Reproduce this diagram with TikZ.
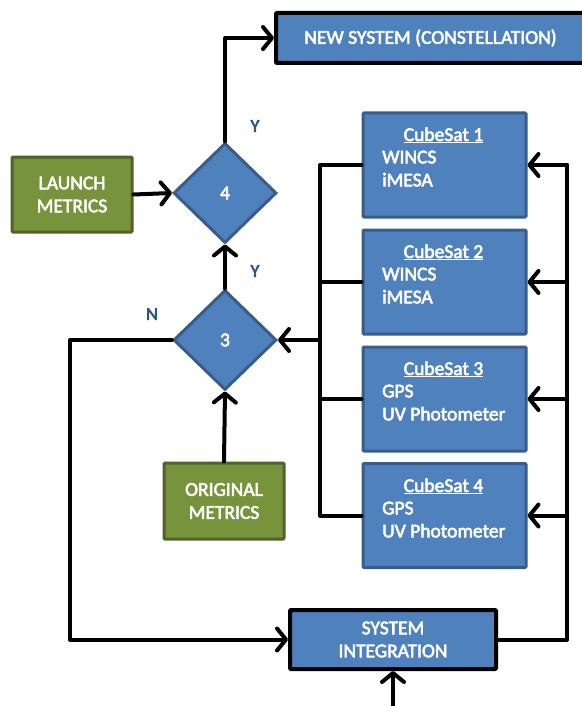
\documentclass[tikz,border=0pt]{standalone}
\usepackage{fontspec}
\setmainfont{Carlito}
\usetikzlibrary{shapes.geometric,arrows.meta}
\newcommand\heavytxt{\special{pdf:literal 2 Tr 0.55 w}}
\newcommand\plaintxt{\special{pdf:literal 0 Tr}}
\definecolor{bfill}{HTML}{4F81BD}
\definecolor{bline}{HTML}{385D8A}
\definecolor{gfill}{HTML}{77933C}
\definecolor{gline}{HTML}{4F6228}
\definecolor{lblue}{HTML}{2A5587}
\tikzset{
  wfont/.style={font=\fontsize{19.5}{23}\selectfont},
  wtxt/.style={text=white,wfont,inner sep=0pt},
  bluebox/.style={rectangle,fill=bfill,draw=bline,line width=3pt,rounded corners=1pt,inner sep=0pt},
  blackbox/.style={rectangle,fill=bfill,draw=black,line width=4pt,rounded corners=1pt,inner sep=0pt,text=white,wfont,align=center},
  greenbox/.style={rectangle,fill=gfill,draw=gline,line width=3pt,rounded corners=1pt,inner sep=0pt,text=white,wfont,align=center},
  dec/.style={diamond,aspect=1,minimum width=103pt,minimum height=100pt,fill=bfill,draw=bline,line width=3pt,inner sep=0pt,text=white,wfont},
  conn/.style={line width=4pt,line join=round,line cap=round},
  arr/.style={conn,-{Straight Barb[length=9pt,width=22pt,round]}},
  yn/.style={text=lblue,font=\fontsize{18}{20}\selectfont,inner sep=0pt}
}
\begin{document}
\begin{tikzpicture}[x=1pt,y=-1pt]
\useasboundingbox (0,0) rectangle (581,706);
% nodes
\node[blackbox,minimum width=309pt,minimum height=50pt] (newsys) at (430.5,38) {\heavytxt NEW SYSTEM (CONSTELLATION)\plaintxt};
\node[greenbox,minimum width=120pt,minimum height=75pt] (launch) at (72,194.5) {\heavytxt LAUNCH\\METRICS\plaintxt};
\node[dec] (d4) at (225,193) {\heavytxt 4\plaintxt};
\node[dec] (d3) at (225,340) {\heavytxt 3\plaintxt};
\node[greenbox,minimum width=120pt,minimum height=76pt] (orig) at (224,501) {\heavytxt ORIGINAL\\METRICS\plaintxt};
\node[blackbox,minimum width=206pt,minimum height=59pt] (sysint) at (393,639.5) {\heavytxt SYSTEM\\INTEGRATION\plaintxt};
\node[bluebox,minimum width=163pt,minimum height=104pt] (cs1) at (444.5,165) {};
\node[bluebox,minimum width=163pt,minimum height=104pt] (cs2) at (444.5,282) {};
\node[bluebox,minimum width=163pt,minimum height=104pt] (cs3) at (444.5,399) {};
\node[bluebox,minimum width=163pt,minimum height=104pt] (cs4) at (444.5,515.5) {};
% cubesat texts
\node[wtxt,anchor=base] (t1) at (443.5,141) {\heavytxt\underline{CubeSat 1}\plaintxt};
\node[wtxt,align=left,anchor=north west] (b1) at (382,150.5) {\heavytxt WINCS\\iMESA\plaintxt};
\node[wtxt,anchor=base] (t2) at (443.5,258) {\heavytxt\underline{CubeSat 2}\plaintxt};
\node[wtxt,align=left,anchor=north west] (b2) at (382,267.5) {\heavytxt WINCS\\iMESA\plaintxt};
\node[wtxt,anchor=base] (t3) at (443.5,375) {\heavytxt\underline{CubeSat 3}\plaintxt};
\node[wtxt,align=left,anchor=north west] (b3) at (382,384.5) {\heavytxt GPS\\UV Photometer\plaintxt};
\node[wtxt,anchor=base] (t4) at (443.5,492) {\heavytxt\underline{CubeSat 4}\plaintxt};
\node[wtxt,align=left,anchor=north west] (b4) at (382,501.5) {\heavytxt GPS\\UV Photometer\plaintxt};
% labels
\node[yn] (y4) at (255,126) {\heavytxt Y\plaintxt};
\node[yn] (y3) at (255,271) {\heavytxt Y\plaintxt};
\node[yn] (n3) at (152,314) {\heavytxt N\plaintxt};
% coordinates
\coordinate (lb1) at (320,165);
\coordinate (lb4) at (320,515.5);
\coordinate (rb1) at (567,165);
\coordinate (nl) at (70,340);
\coordinate (bot) at (393,712);
% connectors
\draw[arr] (d4.north) |- (newsys.west);
\draw[arr] (launch.east) -- (d4.west);
\draw[arr] (d3.north) -- (d4.south);
\draw[arr] (orig.north) -- (d3.south);
\draw[conn] (cs1.west) -- (lb1) -- (lb4) -- (cs4.west);
\draw[conn] (cs2.west) -- (cs2.west -| lb1);
\draw[conn] (cs3.west) -- (cs3.west -| lb1);
\draw[arr] (d3.east -| lb1) -- (d3.east);
\draw[conn] (sysint.east) -| (rb1);
\draw[arr] (cs1.east -| rb1) -- (cs1.east);
\draw[arr] (cs2.east -| rb1) -- (cs2.east);
\draw[arr] (cs3.east -| rb1) -- (cs3.east);
\draw[arr] (cs4.east -| rb1) -- (cs4.east);
\draw[arr] (d3.west) -- (nl) |- (sysint.west);
\draw[arr] (bot) -- (sysint.south);
\end{tikzpicture}
\end{document}
